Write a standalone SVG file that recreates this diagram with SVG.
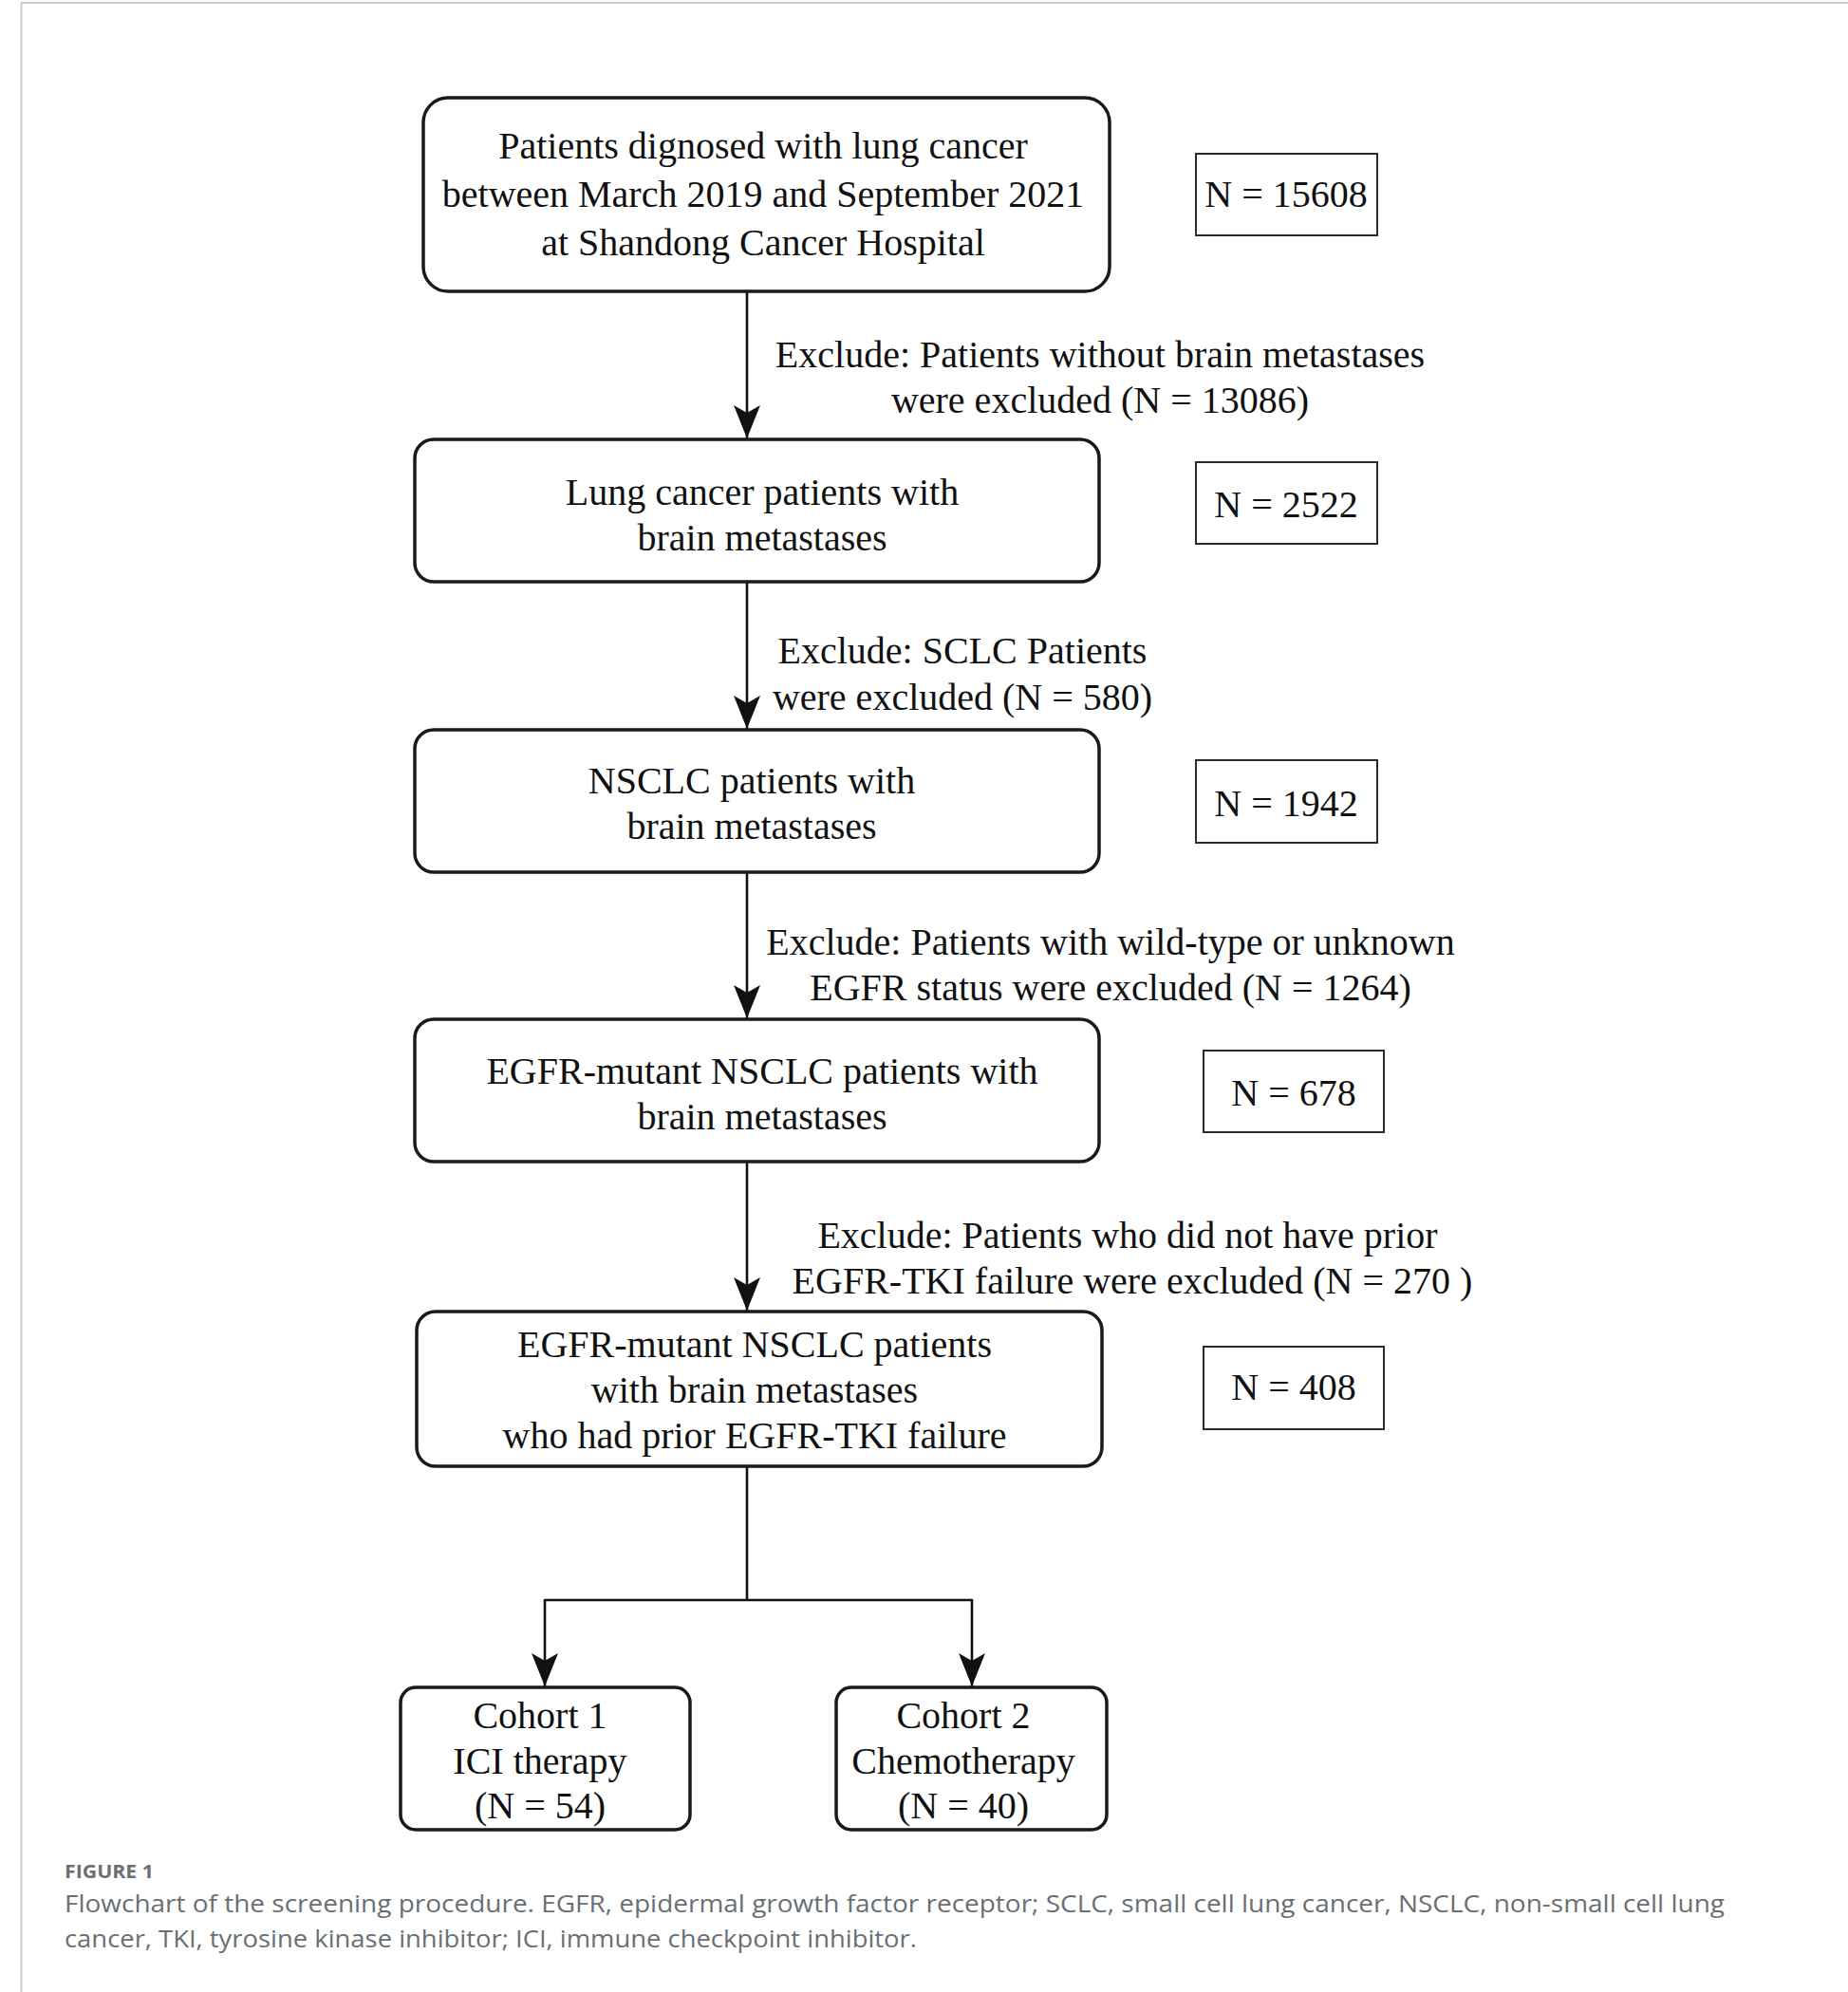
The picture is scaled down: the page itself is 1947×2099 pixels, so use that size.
<svg xmlns="http://www.w3.org/2000/svg" width="1947" height="2099" viewBox="0 0 1947 2099">
<style>
.box{fill:#fff;stroke:#1a1a1a;stroke-width:3.5}
.nbox{fill:#fff;stroke:#2a2a2a;stroke-width:2}
.t{font-family:"Liberation Serif","Times New Roman",serif;font-size:40px;fill:#111;text-anchor:middle}
.conn{fill:none;stroke:#111;stroke-width:2.6}
.cap{font-family:"Open Sans","Noto Sans",sans-serif;fill:#6a6f73}
</style>
<defs>
<marker id="arr" markerUnits="userSpaceOnUse" viewBox="-36 -15 37 30" markerWidth="37" markerHeight="30" refX="0" refY="0" orient="auto">
<path d="M0,0 L-35,-14 L-27,0 L-35,14 Z" fill="#111"/>
</marker>
</defs>
<rect width="1947" height="2099" fill="#fff"/>
<path d="M22.5,2099 V3 H1947" fill="none" stroke="#c9cccf" stroke-width="2"/>

<g id="connectors">
<line class="conn" x1="787" y1="307" x2="787" y2="462" marker-end="url(#arr)"/>
<line class="conn" x1="787" y1="613" x2="787" y2="768" marker-end="url(#arr)"/>
<line class="conn" x1="787" y1="919" x2="787" y2="1073" marker-end="url(#arr)"/>
<line class="conn" x1="787" y1="1224" x2="787" y2="1381" marker-end="url(#arr)"/>
<path class="conn" d="M787,1545 V1686"/>
<path class="conn" d="M574,1686 H1024"/>
<line class="conn" x1="574" y1="1685" x2="574" y2="1777" marker-end="url(#arr)"/>
<line class="conn" x1="1024" y1="1685" x2="1024" y2="1777" marker-end="url(#arr)"/>
</g>

<g id="node1">
<rect class="box" x="446" y="103" width="723" height="204" rx="26"/>
<text class="t" x="804" y="167">Patients dignosed with lung cancer</text>
<text class="t" x="804" y="218">between March 2019 and September 2021</text>
<text class="t" x="804" y="269">at Shandong Cancer Hospital</text>
</g>
<g id="n1count">
<rect class="nbox" x="1260" y="162" width="191" height="86"/>
<text class="t" x="1355" y="218">N = 15608</text>
</g>
<g id="ex1">
<text class="t" x="1159" y="387">Exclude: Patients without brain metastases</text>
<text class="t" x="1159" y="435">were excluded (N = 13086)</text>
</g>

<g id="node2">
<rect class="box" x="437" y="463" width="721" height="150" rx="20"/>
<text class="t" x="803" y="532">Lung cancer patients with</text>
<text class="t" x="803" y="580">brain metastases</text>
</g>
<g id="n2count">
<rect class="nbox" x="1260" y="487" width="191" height="86"/>
<text class="t" x="1355" y="545">N = 2522</text>
</g>
<g id="ex2">
<text class="t" x="1014" y="699">Exclude: SCLC Patients</text>
<text class="t" x="1014" y="748">were excluded (N = 580)</text>
</g>

<g id="node3">
<rect class="box" x="437" y="769" width="721" height="150" rx="20"/>
<text class="t" x="792" y="836">NSCLC patients with</text>
<text class="t" x="792" y="884">brain metastases</text>
</g>
<g id="n3count">
<rect class="nbox" x="1260" y="801" width="191" height="87"/>
<text class="t" x="1355" y="860">N = 1942</text>
</g>
<g id="ex3">
<text class="t" x="1170" y="1006">Exclude: Patients with wild-type or unknown</text>
<text class="t" x="1170" y="1054">EGFR status were excluded (N = 1264)</text>
</g>

<g id="node4">
<rect class="box" x="437" y="1074" width="721" height="150" rx="20"/>
<text class="t" x="803" y="1142">EGFR-mutant NSCLC patients with</text>
<text class="t" x="803" y="1190">brain metastases</text>
</g>
<g id="n4count">
<rect class="nbox" x="1268" y="1107" width="190" height="86"/>
<text class="t" x="1363" y="1165">N = 678</text>
</g>
<g id="ex4">
<text class="t" x="1188" y="1315">Exclude: Patients who did not have prior</text>
<text class="t" x="1193" y="1363">EGFR-TKI failure were excluded (N = 270 )</text>
</g>

<g id="node5">
<rect class="box" x="439" y="1382" width="722" height="163" rx="20"/>
<text class="t" x="795" y="1430">EGFR-mutant NSCLC patients</text>
<text class="t" x="795" y="1478">with brain metastases</text>
<text class="t" x="795" y="1526">who had prior EGFR-TKI failure</text>
</g>
<g id="n5count">
<rect class="nbox" x="1268" y="1419" width="190" height="87"/>
<text class="t" x="1363" y="1475">N = 408</text>
</g>

<g id="cohort1">
<rect class="box" x="422" y="1778" width="305" height="150" rx="16"/>
<text class="t" x="569" y="1821">Cohort 1</text>
<text class="t" x="569" y="1869">ICI therapy</text>
<text class="t" x="569" y="1916">(N = 54)</text>
</g>
<g id="cohort2">
<rect class="box" x="881" y="1778" width="285" height="150" rx="16"/>
<text class="t" x="1015" y="1821">Cohort 2</text>
<text class="t" x="1015" y="1869">Chemotherapy</text>
<text class="t" x="1015" y="1916">(N = 40)</text>
</g>

<g id="caption">
<text class="cap" x="68" y="1979" font-size="20" font-weight="700" textLength="94" lengthAdjust="spacingAndGlyphs">FIGURE 1</text>
<text class="cap" x="68" y="2015" font-size="26" textLength="1749" lengthAdjust="spacingAndGlyphs">Flowchart of the screening procedure. EGFR, epidermal growth factor receptor; SCLC, small cell lung cancer, NSCLC, non-small cell lung</text>
<text class="cap" x="68" y="2052" font-size="26" textLength="898" lengthAdjust="spacingAndGlyphs">cancer, TKI, tyrosine kinase inhibitor; ICI, immune checkpoint inhibitor.</text>
</g>
</svg>
